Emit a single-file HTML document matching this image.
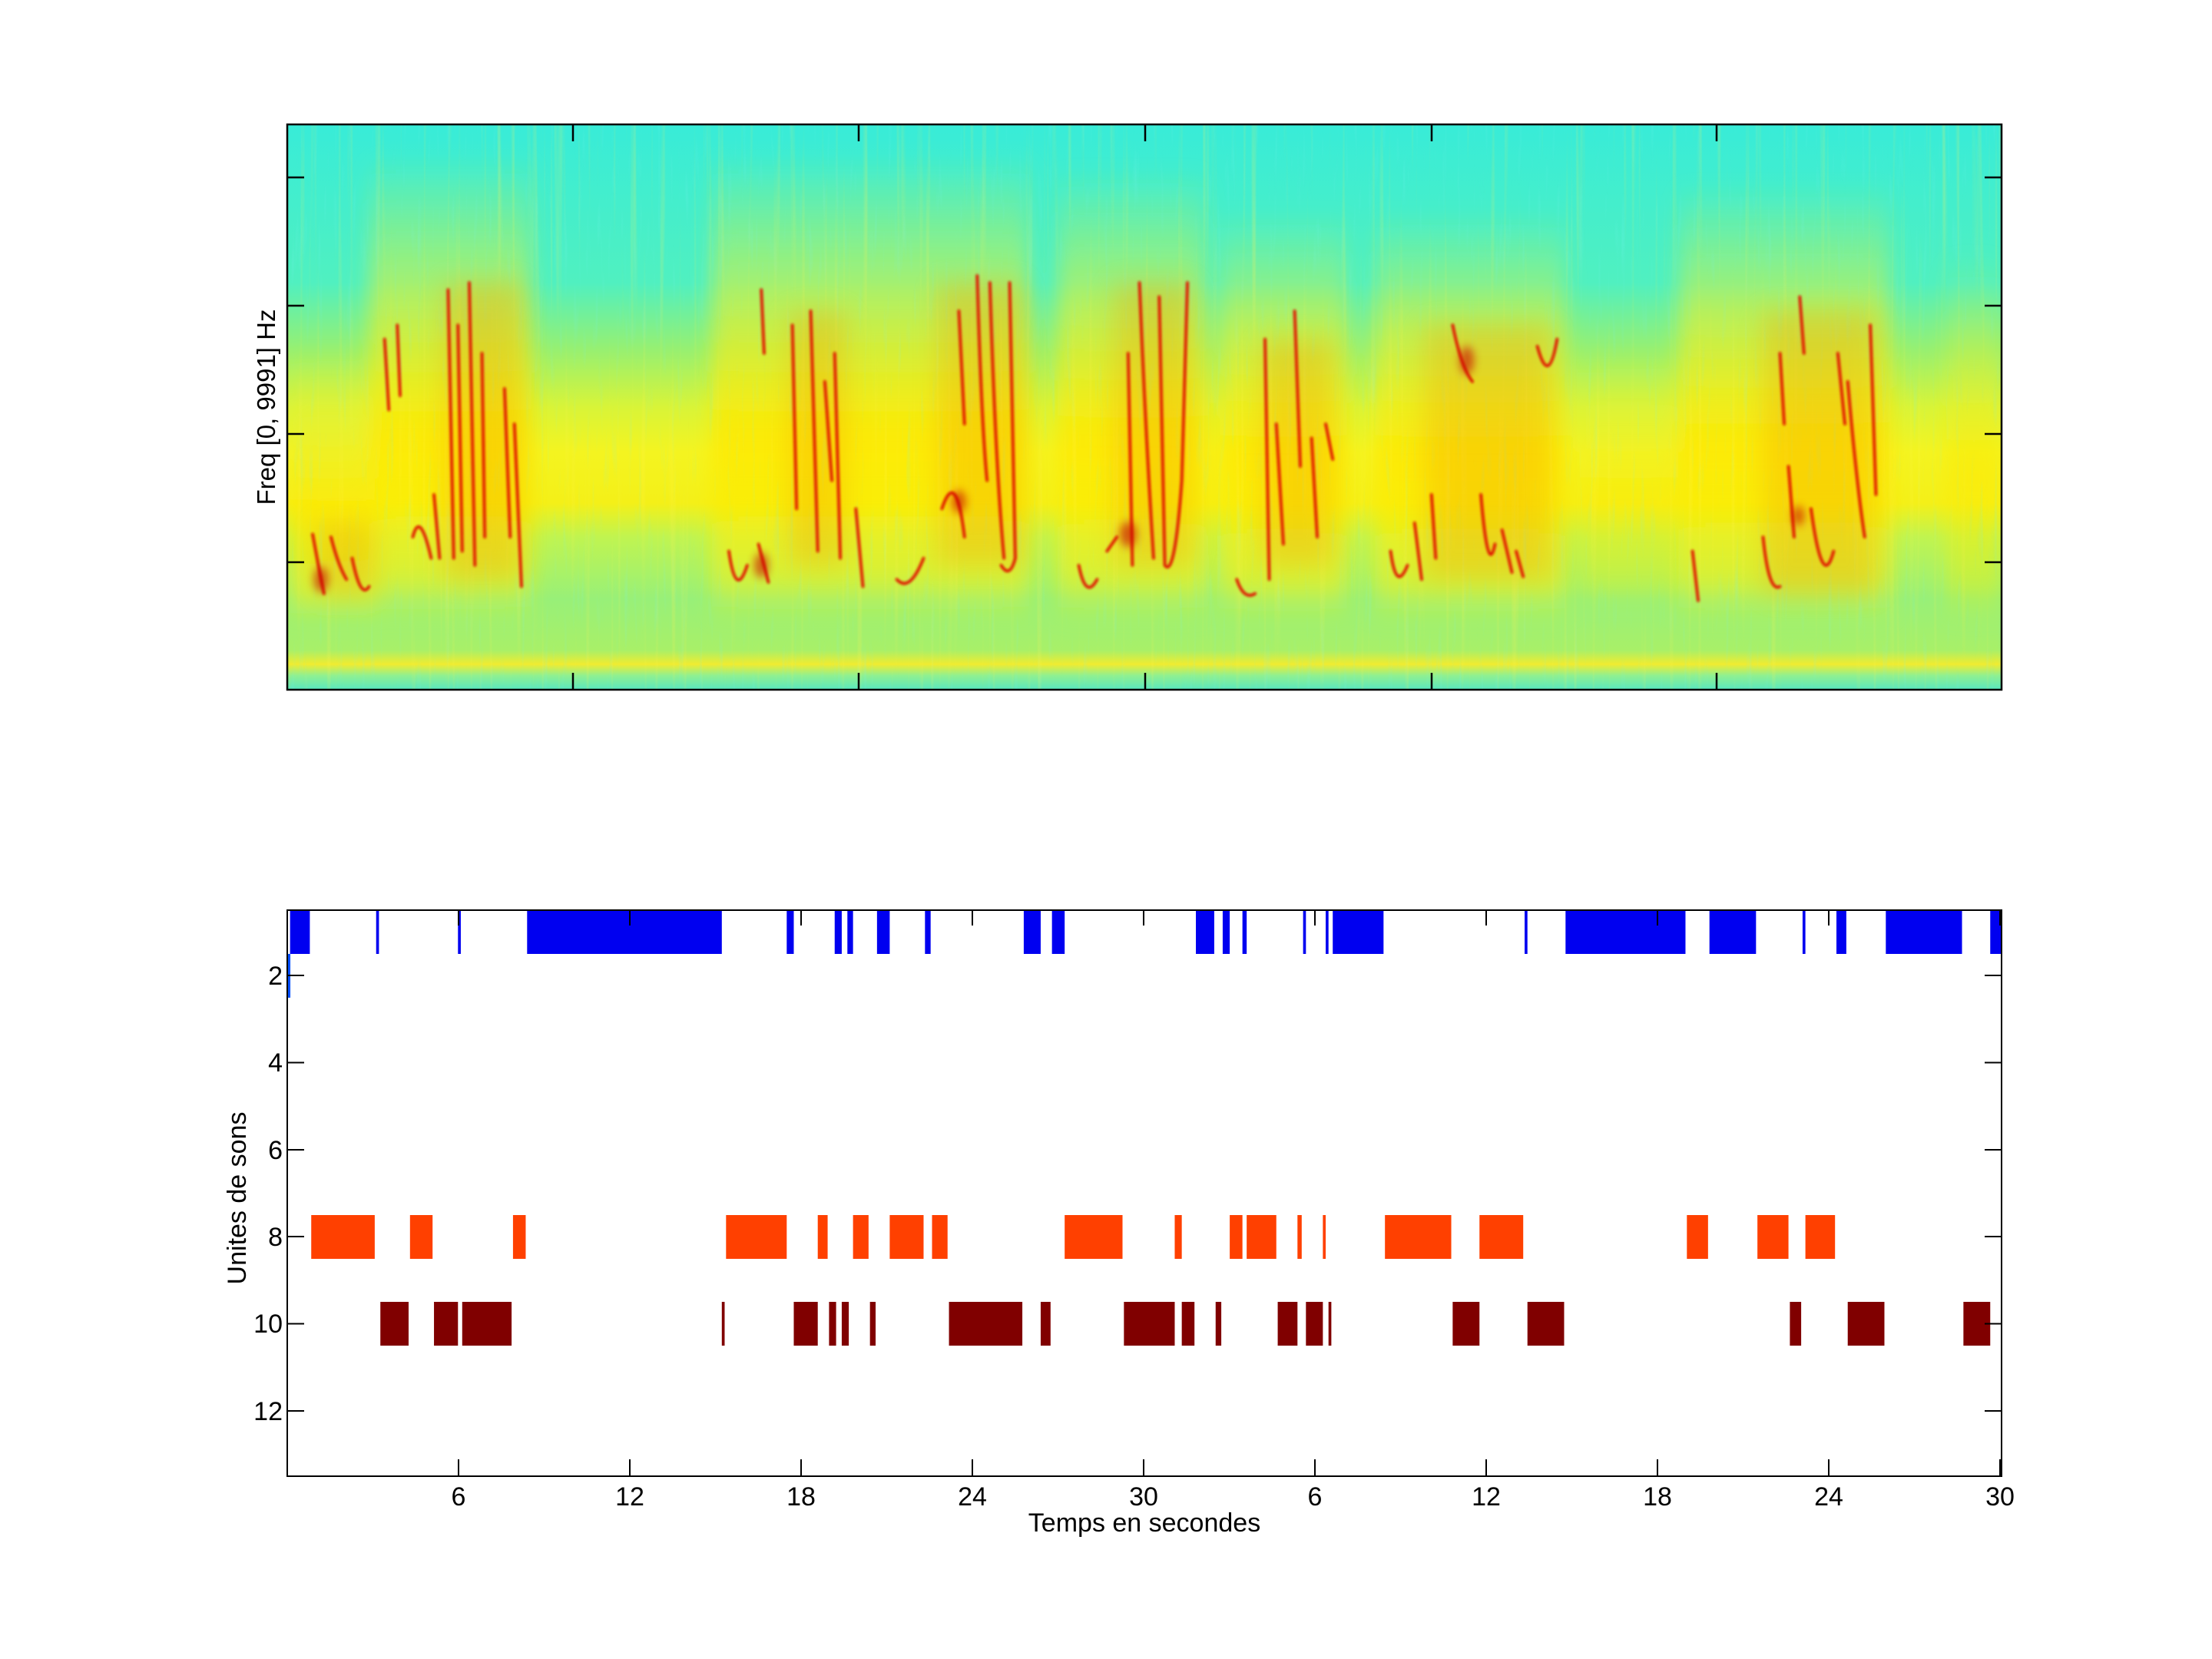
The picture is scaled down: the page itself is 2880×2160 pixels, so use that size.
<!DOCTYPE html>
<html><head><meta charset="utf-8">
<style>
html,body{margin:0;padding:0;background:#fff;}
svg{display:block;}
text{font-family:"Liberation Sans",sans-serif;fill:#000;}
</style></head>
<body>
<svg id="s" width="2880" height="2160" viewBox="0 0 2880 2160" xmlns="http://www.w3.org/2000/svg">
<defs>
<linearGradient id="bg" x1="0" y1="0" x2="0" y2="1">
<stop offset="0" stop-color="#38ecd8"/>
<stop offset="0.28" stop-color="#50f0c0"/>
<stop offset="0.40" stop-color="#98f070"/>
<stop offset="0.50" stop-color="#d8f438"/>
<stop offset="0.58" stop-color="#f4f420"/>
<stop offset="0.67" stop-color="#f4f018"/>
<stop offset="0.73" stop-color="#c0f450"/>
<stop offset="0.84" stop-color="#98f078"/>
<stop offset="0.93" stop-color="#a8f068"/>
<stop offset="0.955" stop-color="#f0ec30"/>
<stop offset="0.975" stop-color="#90f090"/>
<stop offset="1" stop-color="#58e8c0"/>
</linearGradient>
<linearGradient id="band" x1="0" y1="0" x2="0" y2="1">
<stop offset="0" stop-color="#e8f030" stop-opacity="0"/>
<stop offset="0.3" stop-color="#e8f030" stop-opacity="0.6"/>
<stop offset="0.6" stop-color="#ffe800" stop-opacity="0.8"/>
<stop offset="0.9" stop-color="#f8f010" stop-opacity="0.6"/>
<stop offset="1" stop-color="#f0f020" stop-opacity="0"/>
</linearGradient>
<filter id="bl" x="-50%" y="-50%" width="200%" height="200%"><feGaussianBlur stdDeviation="7"/></filter>
<filter id="bl4" x="-50%" y="-50%" width="200%" height="200%"><feGaussianBlur stdDeviation="9"/></filter>
<filter id="bl3" x="-50%" y="-50%" width="200%" height="200%"><feGaussianBlur stdDeviation="3"/></filter>
<filter id="bl2" x="-50%" y="-50%" width="200%" height="200%"><feGaussianBlur stdDeviation="0.8"/></filter>
<filter id="streak" x="0" y="0" width="100%" height="100%">
<feTurbulence type="fractalNoise" baseFrequency="0.25 0.004" numOctaves="2" seed="3"/>
<feColorMatrix type="matrix" values="0 0 0 0 1  0 0 0 0 0.9  0 0 0 0 0.1  1.6 0 0 0 -0.95"/>
</filter>
<filter id="streak2" x="0" y="0" width="100%" height="100%">
<feTurbulence type="fractalNoise" baseFrequency="0.3 0.02" numOctaves="2" seed="9"/>
<feColorMatrix type="matrix" values="0 0 0 0 0.2  0 0 0 0 0.9  0 0 0 0 0.85  1.6 0 0 0 -0.95"/>
</filter>
<clipPath id="cp"><rect x="204" y="88" width="1215" height="400"/></clipPath>
</defs>

<!-- Top spectrogram -->
<g transform="matrix(1.837,0,0,1.84,-0.75,0)" clip-path="url(#cp)">
<rect x="204" y="88" width="1215" height="400" fill="url(#bg)"/>
<g filter="url(#bl)">
<rect x="206" y="250" width="60" height="190" fill="url(#band)"/>
<rect x="262" y="110" width="115" height="330" fill="url(#band)"/>
<rect x="505" y="110" width="225" height="330" fill="url(#band)"/>
<rect x="750" y="120" width="105" height="320" fill="url(#band)"/>
<rect x="865" y="150" width="90" height="290" fill="url(#band)"/>
<rect x="975" y="150" width="135" height="290" fill="url(#band)"/>
<rect x="1120" y="250" width="70" height="180" fill="url(#band)" opacity="0.5"/>
<rect x="1190" y="130" width="150" height="310" fill="url(#band)"/>
<rect x="1380" y="180" width="39" height="260" fill="url(#band)" opacity="0.6"/>
</g>
<rect x="204" y="88" width="1215" height="400" filter="url(#streak)" opacity="0.5"/>
<rect x="204" y="88" width="1215" height="400" filter="url(#streak2)" opacity="0.35"/>
<g fill="#f4a000" opacity="0.3" filter="url(#bl4)">
<rect x="225" y="370" width="40" height="50"/>
<rect x="315" y="200" width="55" height="210"/>
<rect x="560" y="220" width="40" height="180"/>
<rect x="665" y="200" width="60" height="200"/>
<rect x="790" y="200" width="55" height="200"/>
<rect x="895" y="240" width="50" height="160"/>
<rect x="1010" y="230" width="90" height="180"/>
<rect x="1250" y="220" width="80" height="200"/>
</g>
<g id="red" filter="url(#bl2)" fill="none" stroke="#e01000" stroke-width="2" stroke-linecap="round">
<path d="M222 378 Q226 400 230 420 M235 380 Q240 400 246 410 M250 395 Q256 425 262 415"/>
<path d="M273 240 L276 290 M282 230 L284 280"/>
<path d="M293 380 Q298 360 306 395 M308 350 L312 395"/>
<path d="M318 205 L322 395 M325 230 L328 390 M333 200 L337 400 M342 250 L344 380"/>
<path d="M358 275 L362 380 M365 300 L370 415"/>
<path d="M517 390 Q522 425 530 400 M538 385 L545 412 M540 205 L542 250"/>
<path d="M562 230 L565 360 M575 220 L580 390 M585 270 L590 340 M592 250 L596 395"/>
<path d="M607 360 L612 415 M636 410 Q645 420 655 395"/>
<path d="M668 360 Q678 330 684 380 M680 220 L684 300 M693 195 Q696 300 700 340 M702 200 Q706 330 712 395 M716 200 L720 395 Q716 410 710 400"/>
<path d="M765 400 Q770 425 778 410 M785 390 L792 380 M800 250 L803 400 M808 200 Q812 300 818 395 M822 210 L826 400 Q833 410 838 340 L842 200"/>
<path d="M877 410 Q882 425 890 420 M897 240 L900 410 M905 300 L910 385 M918 220 L922 330 M930 310 L934 380 M940 300 L945 325"/>
<path d="M986 390 Q990 420 998 400 M1003 370 L1008 410 M1015 350 L1018 395 M1030 230 Q1036 260 1044 270 M1050 350 Q1055 410 1060 385 M1065 375 L1072 405 M1075 390 L1080 408 M1090 245 Q1098 275 1104 240"/>
<path d="M1200 390 L1204 425 M1250 380 Q1254 420 1262 415 M1262 250 L1265 300 M1268 330 L1272 380 M1276 210 L1279 250 M1284 360 Q1292 420 1300 390 M1303 250 L1308 300 M1310 270 Q1316 340 1322 380 M1326 230 L1330 350"/>
</g>
<g fill="#c80000" opacity="0.6" filter="url(#bl3)">
<ellipse cx="228" cy="410" rx="5" ry="9"/>
<ellipse cx="540" cy="400" rx="5" ry="9"/>
<ellipse cx="680" cy="355" rx="5" ry="8"/>
<ellipse cx="800" cy="378" rx="6" ry="9"/>
<ellipse cx="1040" cy="255" rx="5" ry="10"/>
<ellipse cx="1275" cy="365" rx="4" ry="7"/>
</g>
</g>
<rect x="374" y="162" width="2232" height="736" fill="none" stroke="#000" stroke-width="2.5"/>
<g stroke="#000" stroke-width="2.5">
<path d="M374 231h22M374 398h22M374 565h22M374 732h22M2606 231h-22M2606 398h-22M2606 565h-22M2606 732h-22"/>
<path d="M746 162v22M1118 162v22M1491 162v22M1864 162v22M2235 162v22M746 898v-22M1118 898v-22M1491 898v-22M1864 898v-22M2235 898v-22"/>
</g>
<text transform="translate(358,530) rotate(-90)" font-size="33" text-anchor="middle">Freq [0, 9991] Hz</text>

<!-- Bottom plot -->
<g transform="matrix(1.837,0,0,1,-0.75,0)">
<g fill="#0000f0">
<rect x="206" y="1185" width="14" height="57"/><rect x="267" y="1185" width="2" height="57"/><rect x="325" y="1185" width="2" height="57"/>
<rect x="374" y="1185" width="138" height="57"/><rect x="558" y="1185" width="5" height="57"/><rect x="592" y="1185" width="5" height="57"/>
<rect x="601" y="1185" width="4" height="57"/><rect x="622" y="1185" width="9" height="57"/><rect x="656" y="1185" width="4" height="57"/>
<rect x="726" y="1185" width="12" height="57"/><rect x="746" y="1185" width="9" height="57"/><rect x="848" y="1185" width="13" height="57"/>
<rect x="867" y="1185" width="5" height="57"/><rect x="881" y="1185" width="3" height="57"/><rect x="924" y="1185" width="2" height="57"/>
<rect x="940" y="1185" width="2" height="57"/><rect x="945" y="1185" width="36" height="57"/><rect x="1081" y="1185" width="2" height="57"/>
<rect x="1110" y="1185" width="85" height="57"/><rect x="1212" y="1185" width="33" height="57"/><rect x="1278" y="1185" width="2" height="57"/>
<rect x="1302" y="1185" width="7" height="57"/><rect x="1337" y="1185" width="54" height="57"/><rect x="1411" y="1185" width="8" height="57"/>
</g>
<rect x="204" y="1242" width="2.2" height="57" fill="#0050ff"/>
<g fill="#ff4000">
<rect x="221" y="1582" width="45" height="57"/><rect x="291" y="1582" width="16" height="57"/><rect x="364" y="1582" width="9" height="57"/>
<rect x="515" y="1582" width="43" height="57"/><rect x="580" y="1582" width="7" height="57"/><rect x="605" y="1582" width="11" height="57"/>
<rect x="631" y="1582" width="24" height="57"/><rect x="661" y="1582" width="11" height="57"/><rect x="755" y="1582" width="41" height="57"/>
<rect x="833" y="1582" width="5" height="57"/><rect x="872" y="1582" width="9" height="57"/><rect x="884" y="1582" width="21" height="57"/>
<rect x="920" y="1582" width="3" height="57"/><rect x="938" y="1582" width="2" height="57"/><rect x="982" y="1582" width="47" height="57"/>
<rect x="1049" y="1582" width="31" height="57"/><rect x="1196" y="1582" width="15" height="57"/><rect x="1246" y="1582" width="22" height="57"/>
<rect x="1280" y="1582" width="21" height="57"/>
</g>
<g fill="#800000">
<rect x="270" y="1695" width="20" height="57"/><rect x="308" y="1695" width="17" height="57"/><rect x="328" y="1695" width="35" height="57"/>
<rect x="512" y="1695" width="2" height="57"/><rect x="563" y="1695" width="17" height="57"/><rect x="588" y="1695" width="5" height="57"/>
<rect x="597" y="1695" width="5" height="57"/><rect x="617" y="1695" width="4" height="57"/><rect x="673" y="1695" width="52" height="57"/>
<rect x="738" y="1695" width="7" height="57"/><rect x="797" y="1695" width="36" height="57"/><rect x="838" y="1695" width="9" height="57"/>
<rect x="862" y="1695" width="4" height="57"/><rect x="906" y="1695" width="14" height="57"/><rect x="926" y="1695" width="12" height="57"/>
<rect x="942" y="1695" width="2" height="57"/><rect x="1030" y="1695" width="19" height="57"/><rect x="1083" y="1695" width="26" height="57"/>
<rect x="1269" y="1695" width="8" height="57"/><rect x="1310" y="1695" width="26" height="57"/><rect x="1392" y="1695" width="19" height="57"/>
</g>
</g>
<rect x="374" y="1185" width="2232" height="737" fill="none" stroke="#000" stroke-width="2"/>
<g stroke="#000" stroke-width="2">
<path d="M374 1270h22M374 1383.5h22M374 1497h22M374 1610h22M374 1723.5h22M374 1837h22"/>
<path d="M2606 1270h-22M2606 1383.5h-22M2606 1497h-22M2606 1610h-22M2606 1723.5h-22M2606 1837h-22"/>
<path d="M597 1922v-22M820 1922v-22M1043 1922v-22M1266 1922v-22M1489 1922v-22M1712 1922v-22M1935 1922v-22M2158 1922v-22M2381 1922v-22M2604 1922v-22"/>
<path d="M597 1185v20M820 1185v20M1043 1185v20M1266 1185v20M1489 1185v20M1712 1185v20M1935 1185v20M2158 1185v20M2381 1185v20M2604 1185v20"/>
</g>
<g font-size="34" text-anchor="end">
<text x="368" y="1282">2</text><text x="368" y="1395">4</text><text x="368" y="1509">6</text>
<text x="368" y="1622">8</text><text x="368" y="1735">10</text><text x="368" y="1849">12</text>
</g>
<g font-size="34" text-anchor="middle">
<text x="597" y="1960">6</text><text x="820" y="1960">12</text><text x="1043" y="1960">18</text><text x="1266" y="1960">24</text>
<text x="1489" y="1960">30</text><text x="1712" y="1960">6</text><text x="1935" y="1960">12</text><text x="2158" y="1960">18</text>
<text x="2381" y="1960">24</text><text x="2604" y="1960">30</text>
</g>
<text x="1490" y="1994" font-size="34" text-anchor="middle">Temps en secondes</text>
<text transform="translate(320,1560) rotate(-90)" font-size="34" text-anchor="middle">Unites de sons</text>
</svg>
</body></html>
